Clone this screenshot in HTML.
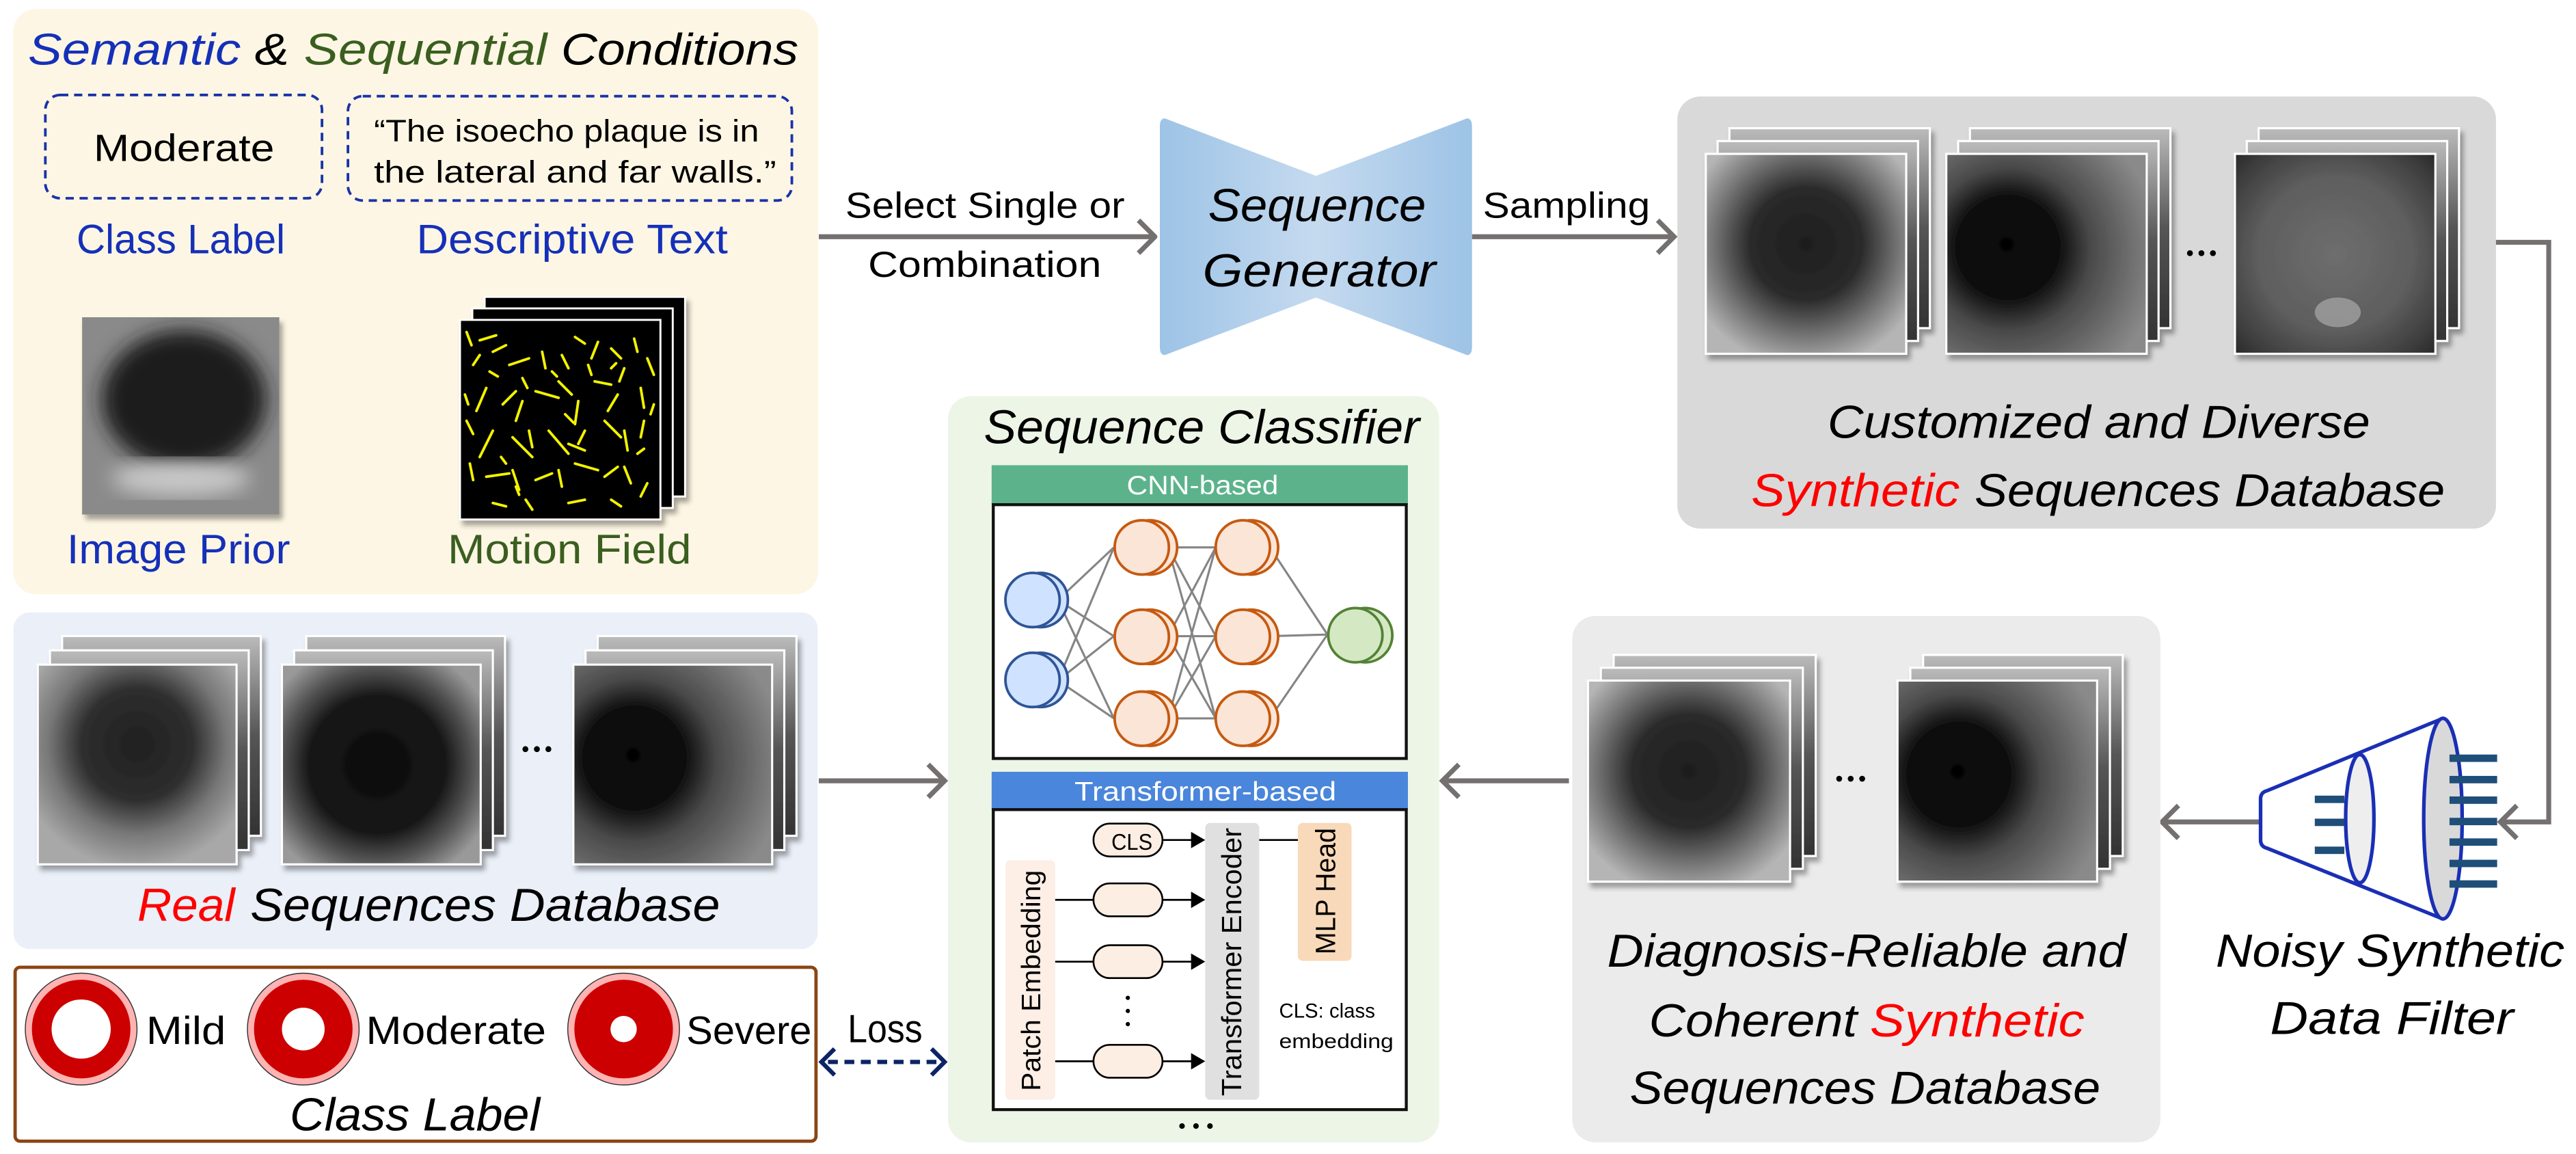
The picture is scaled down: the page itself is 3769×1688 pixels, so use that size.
<!DOCTYPE html>
<html><head><meta charset="utf-8"><style>
html,body{margin:0;padding:0;background:#fff;}
svg{display:block;}
text{font-family:"Liberation Sans",sans-serif;}
.it{font-style:italic;}
</style></head><body>
<svg width="3769" height="1688" viewBox="0 0 1568 702" preserveAspectRatio="none" xmlns="http://www.w3.org/2000/svg">
<defs>
<filter id="sh" x="-10%" y="-10%" width="130%" height="130%"><feDropShadow dx="2" dy="3" stdDeviation="1.5" flood-color="#000" flood-opacity="0.35"/></filter>
<filter id="bl"><feGaussianBlur stdDeviation="6"/></filter>
<linearGradient id="bow" x1="0" x2="1" y1="0" y2="0">
<stop offset="0" stop-color="#9dc3e6"/><stop offset="0.5" stop-color="#c5daef"/><stop offset="1" stop-color="#9dc3e6"/></linearGradient>
<radialGradient id="u1" cx="0.5" cy="0.45" r="0.62"><stop offset="0" stop-color="#1e1e1e"/><stop offset="0.45" stop-color="#2a2a2a"/><stop offset="0.7" stop-color="#6a6a6a"/><stop offset="1" stop-color="#b5b5b5"/></radialGradient>
<radialGradient id="u2" cx="0.48" cy="0.5" r="0.62"><stop offset="0" stop-color="#0d0d0d"/><stop offset="0.55" stop-color="#161616"/><stop offset="0.78" stop-color="#555"/><stop offset="1" stop-color="#999"/></radialGradient>
<radialGradient id="u3" cx="0.32" cy="0.5" fx="0.3" fy="0.45" r="0.75"><stop offset="0" stop-color="#050505"/><stop offset="0.35" stop-color="#111"/><stop offset="0.55" stop-color="#4a4a4a"/><stop offset="1" stop-color="#8a8a8a"/></radialGradient>
<radialGradient id="u4" cx="0.5" cy="0.5" r="0.7"><stop offset="0" stop-color="#6e6e6e"/><stop offset="0.55" stop-color="#5e5e5e"/><stop offset="0.85" stop-color="#3e3e3e"/><stop offset="1" stop-color="#2a2a2a"/></radialGradient>
<radialGradient id="u5" cx="0.5" cy="0.4" r="0.62"><stop offset="0" stop-color="#202020"/><stop offset="0.45" stop-color="#2e2e2e"/><stop offset="0.72" stop-color="#777"/><stop offset="1" stop-color="#a8a8a8"/></radialGradient>
<linearGradient id="ub" x1="0" y1="0" x2="0" y2="1"><stop offset="0" stop-color="#bbb"/><stop offset="0.5" stop-color="#555"/><stop offset="1" stop-color="#333"/></linearGradient>
</defs>

<rect x="8" y="5.5" width="490" height="356" rx="14" fill="#fdf6e4"/>
<text class="it" x="17" y="39.4" font-size="27" fill="#1530b8" textLength="129.6" lengthAdjust="spacingAndGlyphs">Semantic</text>
<text class="it" x="155" y="39.4" font-size="27" fill="#000" textLength="21" lengthAdjust="spacingAndGlyphs">&amp;</text>
<text class="it" x="185" y="39.4" font-size="27" fill="#3a5e1f" textLength="148" lengthAdjust="spacingAndGlyphs">Sequential</text>
<text class="it" x="341.5" y="39.4" font-size="27" fill="#000" textLength="144.5" lengthAdjust="spacingAndGlyphs">Conditions</text>
<rect x="27.6" y="57.8" width="168.4" height="62.8" rx="9" fill="none" stroke="#1a33a8" stroke-width="1.6" stroke-dasharray="5,3.5"/>
<rect x="211.8" y="58.5" width="270.2" height="63.5" rx="9" fill="none" stroke="#1a33a8" stroke-width="1.6" stroke-dasharray="5,3.5"/>
<text x="57" y="98" font-size="23" textLength="110" lengthAdjust="spacingAndGlyphs">Moderate</text>
<text x="227.6" y="86" font-size="19" textLength="234.4" lengthAdjust="spacingAndGlyphs">“The isoecho plaque is in</text>
<text x="227.6" y="111" font-size="19" textLength="244.9" lengthAdjust="spacingAndGlyphs">the lateral and far walls.”</text>
<text x="46.6" y="154" font-size="25" fill="#1530b8" textLength="126.9" lengthAdjust="spacingAndGlyphs">Class Label</text>
<text x="253.5" y="154" font-size="25" fill="#1530b8" textLength="189.5" lengthAdjust="spacingAndGlyphs">Descriptive Text</text>
<g filter="url(#sh)">
<rect x="50" y="193" width="120" height="120" fill="#8a8a8a"/>
</g>
<svg x="50" y="193" width="120" height="120" overflow="hidden">
<rect width="120" height="120" fill="#8a8a8a"/>
<ellipse cx="62" cy="50" rx="50" ry="42" fill="#1c1c1c" filter="url(#bl)"/>
<ellipse cx="60" cy="98" rx="42" ry="11" fill="#c8c8c8" filter="url(#bl)"/>
</svg>
<g stroke="#fff" stroke-width="1.2" filter="url(#sh)">
<rect x="295" y="180.6" width="122" height="121.4" fill="#000"/>
<rect x="287.5" y="187.6" width="122" height="121.4" fill="#000"/>
<rect x="280" y="194.6" width="122" height="121.4" fill="#000"/>
</g>
<g stroke="#f2f200" stroke-width="1.6" stroke-linecap="round">
<path d="M284 202l3 8M292 207l10-3M300 214l8-4M288 222l4-6M310 222l12-4M318 230l3 6M330 214l2 10M342 216l4 8M350 205l6 4M364 208l-4 10M372 212l6 6M380 224l-3 8M386 206l2 8M394 218l4 10"/>
<path d="M296 236l-6 14M306 246l8-8M318 244l-4 12M326 238l14 4M340 232l8 8M352 244l-2 14M362 232l10 2M376 240l-6 10M390 236l2 12M284 256l4 8"/>
<path d="M300 262l-8 16M312 266l12 12M322 262l2 10M334 262l12 14M346 270l10 4M356 262l-4 8M368 256l10 10M380 262l2 12M392 256l-2 10"/>
<path d="M286 282l2 10M296 290l14-2M312 286l4 12M326 292l10-4M340 286l2 10M350 282l14 4M368 290l8 -6M380 284l4 10M394 294l-4 8M300 306l8 2M320 304l4 6M346 306l10 -2M372 304l6 4"/>
<path d="M283 240l2 6M298 226l5 3M336 226l3 3M358 222l2 6M398 246l-2 6M344 252l5 5M314 296l2 5M388 276l4-3M305 278l3 4M372 224l3-3"/>
</g>
<text x="40.7" y="342.7" font-size="25" fill="#1530b8" textLength="135.9" lengthAdjust="spacingAndGlyphs">Image Prior</text>
<text x="272.5" y="342.7" font-size="25" fill="#3a5e1f" textLength="148.3" lengthAdjust="spacingAndGlyphs">Motion Field</text>

<g stroke="#757070" stroke-width="3" fill="none">
<line x1="498.4" y1="144" x2="703" y2="144"/>
<polyline points="693,134 703,144 693,154" stroke-linejoin="round"/>
<line x1="896" y1="144" x2="1018" y2="144"/>
<polyline points="1009,134 1019,144 1009,154"/>
</g>
<text x="514.6" y="132.5" font-size="22" textLength="170" lengthAdjust="spacingAndGlyphs">Select Single or</text>
<text x="528.4" y="168.4" font-size="22" textLength="142" lengthAdjust="spacingAndGlyphs">Combination</text>
<path d="M709,72 Q706,72 706,77 L706,211 Q706,216 709,216 L801,181 L893,216 Q896,216 896,211 L896,77 Q896,72 893,72 L801,107 Z" fill="url(#bow)"/>
<text class="it" x="735.4" y="134.5" font-size="28" textLength="132.6" lengthAdjust="spacingAndGlyphs">Sequence</text>
<text class="it" x="732" y="174.3" font-size="28" textLength="142" lengthAdjust="spacingAndGlyphs">Generator</text>
<text x="902.6" y="132.5" font-size="22" textLength="101.8" lengthAdjust="spacingAndGlyphs">Sampling</text>

<rect x="1021" y="58.7" width="498.3" height="262.9" rx="14" fill="#d9d9d9"/>
<g stroke="#fff" stroke-width="1.3" filter="url(#sh)">
<rect x="1052.7" y="78" width="122" height="121.6" fill="url(#ub)"/>
<rect x="1045.5" y="85.8" width="122" height="121.6" fill="url(#ub)"/>
<rect x="1038.3" y="93.6" width="122" height="121.6" fill="url(#u1)"/>
<rect x="1199.1" y="78" width="122" height="121.6" fill="url(#ub)"/>
<rect x="1191.9" y="85.8" width="122" height="121.6" fill="url(#ub)"/>
<rect x="1184.7" y="93.6" width="122" height="121.6" fill="url(#u3)"/>
<rect x="1374.8" y="78" width="122" height="121.6" fill="url(#ub)"/>
<rect x="1367.6" y="85.8" width="122" height="121.6" fill="url(#ub)"/>
<rect x="1360.4" y="93.6" width="122" height="121.6" fill="url(#u4)"/>
</g>
<ellipse cx="1423" cy="190" rx="14" ry="9" fill="#aaa" opacity="0.7"/>
<g fill="#000"><circle cx="1333" cy="154" r="1.8"/><circle cx="1340" cy="154" r="1.8"/><circle cx="1347" cy="154" r="1.8"/></g>
<text class="it" x="1112.4" y="266.3" font-size="28" textLength="330.3" lengthAdjust="spacingAndGlyphs">Customized and Diverse</text>
<text class="it" x="1065.9" y="308" font-size="28" fill="#ff0000" textLength="127" lengthAdjust="spacingAndGlyphs">Synthetic</text>
<text class="it" x="1201.9" y="308" font-size="28" textLength="286.3" lengthAdjust="spacingAndGlyphs">Sequences Database</text>

<g stroke="#757070" stroke-width="3" fill="none">
<polyline points="1519.3,147.4 1551.4,147.4 1551.4,500 1523,500"/>
<polyline points="1532,490 1522,500 1532,510"/>
<line x1="1399" y1="500" x2="1317" y2="500"/>
<polyline points="1326,490 1316,500 1326,510"/>
</g>

<path d="M1380,481 L1487,437 L1487,559 L1380,516 Q1376,515 1376,511 L1376,486 Q1376,482 1380,481 Z" fill="#fff" stroke="#1a2fb5" stroke-width="2.2" stroke-linejoin="round"/>
<ellipse cx="1436.4" cy="498" rx="8.6" ry="39" fill="#eee" stroke="#1a2fb5" stroke-width="2.2"/>
<ellipse cx="1487" cy="498" rx="11.7" ry="61" fill="#d9d9d9" stroke="#1a2fb5" stroke-width="2.2"/>
<g fill="#1f4e79">
<rect x="1409" y="484" width="18" height="4.5"/><rect x="1409" y="498" width="18" height="4.5"/><rect x="1409" y="515" width="18" height="4.5"/>
<rect x="1491" y="459" width="29" height="4.5"/><rect x="1491" y="472" width="29" height="4.5"/><rect x="1491" y="484.5" width="29" height="4.5"/><rect x="1491" y="497.5" width="29" height="4.5"/><rect x="1491" y="510" width="29" height="4.5"/><rect x="1491" y="523" width="29" height="4.5"/><rect x="1491" y="535.5" width="29" height="4.5"/>
</g>
<text class="it" x="1348.7" y="588" font-size="28" textLength="212.3" lengthAdjust="spacingAndGlyphs">Noisy Synthetic</text>
<text class="it" x="1381.8" y="629" font-size="28" textLength="148.2" lengthAdjust="spacingAndGlyphs">Data Filter</text>

<rect x="957" y="374.7" width="358" height="320.2" rx="14" fill="#ebebeb"/>
<g stroke="#fff" stroke-width="1.3" filter="url(#sh)">
<rect x="982.2" y="398.4" width="123" height="122.3" fill="url(#ub)"/>
<rect x="974.4" y="406.2" width="123" height="122.3" fill="url(#ub)"/>
<rect x="966.6" y="414" width="123" height="122.3" fill="url(#u1)"/>
<rect x="1170.6" y="398.4" width="121.5" height="122.3" fill="url(#ub)"/>
<rect x="1162.8" y="406.2" width="121.5" height="122.3" fill="url(#ub)"/>
<rect x="1155" y="414" width="121.5" height="122.3" fill="url(#u3)"/>
</g>
<g fill="#000"><circle cx="1119.5" cy="473.7" r="1.8"/><circle cx="1126.5" cy="473.7" r="1.8"/><circle cx="1133.5" cy="473.7" r="1.8"/></g>
<text class="it" x="978.3" y="588" font-size="28" textLength="315.8" lengthAdjust="spacingAndGlyphs">Diagnosis-Reliable and</text>
<text class="it" x="1003.7" y="630.4" font-size="28" textLength="126.7" lengthAdjust="spacingAndGlyphs">Coherent</text>
<text class="it" x="1138.2" y="630.4" font-size="28" fill="#ff0000" textLength="130.6" lengthAdjust="spacingAndGlyphs">Synthetic</text>
<text class="it" x="992" y="671.5" font-size="28" textLength="286.5" lengthAdjust="spacingAndGlyphs">Sequences Database</text>

<g stroke="#757070" stroke-width="3" fill="none">
<line x1="955" y1="475" x2="879" y2="475"/>
<polyline points="888,465 878,475 888,485"/>
</g>

<rect x="577" y="241" width="299" height="454" rx="14" fill="#edf5e6"/>
<text class="it" x="598.8" y="269.6" font-size="29" textLength="265.3" lengthAdjust="spacingAndGlyphs">Sequence Classifier</text>
<rect x="603.6" y="283" width="253.4" height="24" fill="#5cb38b"/>
<text x="685.8" y="300.7" font-size="16" fill="#fff" textLength="92.3" lengthAdjust="spacingAndGlyphs">CNN-based</text>
<rect x="604.6" y="307" width="251.4" height="154.4" fill="#fff" stroke="#111" stroke-width="1.8"/>
<g stroke="#858585" stroke-width="1.3">
<path d="M644 365L678 333M644 365L678 387M644 365L678 437M644 414L678 333M644 414L678 387M644 414L678 437"/>
<path d="M711 333L740 333M711 333L740 387M711 333L740 437M711 387L740 333M711 387L740 387M711 387L740 437M711 437L740 333M711 437L740 387M711 437L740 437"/>
<path d="M773 333L808 386M773 387L808 386M773 437L808 386"/>
</g>
<g stroke-width="1.6">
<circle cx="633.5" cy="365" r="16.5" fill="#cfe2ff" stroke="#2f5597"/><circle cx="628.5" cy="365" r="16.5" fill="#cfe2ff" stroke="#2f5597"/>
<circle cx="633.5" cy="413.6" r="16.5" fill="#cfe2ff" stroke="#2f5597"/><circle cx="628.5" cy="413.6" r="16.5" fill="#cfe2ff" stroke="#2f5597"/>
<g fill="#fbe5d6" stroke="#c55a11">
<circle cx="700" cy="333" r="16.5"/><circle cx="695" cy="333" r="16.5"/>
<circle cx="700" cy="387.4" r="16.5"/><circle cx="695" cy="387.4" r="16.5"/>
<circle cx="700" cy="437.2" r="16.5"/><circle cx="695" cy="437.2" r="16.5"/>
<circle cx="761.5" cy="333" r="16.5"/><circle cx="756.5" cy="333" r="16.5"/>
<circle cx="761.5" cy="387.4" r="16.5"/><circle cx="756.5" cy="387.4" r="16.5"/>
<circle cx="761.5" cy="437.2" r="16.5"/><circle cx="756.5" cy="437.2" r="16.5"/>
</g>
<circle cx="831" cy="386.4" r="16.5" fill="#d5e8c4" stroke="#548235"/><circle cx="825" cy="386.4" r="16.5" fill="#d5e8c4" stroke="#548235"/>
</g>
<rect x="603.6" y="469.5" width="253.4" height="23" fill="#4a86db"/>
<text x="654" y="487" font-size="16" fill="#fff" textLength="159.4" lengthAdjust="spacingAndGlyphs">Transformer-based</text>
<rect x="604.6" y="492.5" width="251.4" height="182.5" fill="#fff" stroke="#111" stroke-width="1.8"/>
<rect x="612" y="523.3" width="30.3" height="145.7" rx="3" fill="#fdeee6"/>
<rect x="733.6" y="500.6" width="32.9" height="168.4" rx="3" fill="#e0e0e0"/>
<rect x="790" y="500.6" width="32.7" height="83.9" rx="3" fill="#f8d9b9"/>
<text transform="translate(633.2,663.7) rotate(-90)" font-size="16" textLength="134.4" lengthAdjust="spacingAndGlyphs">Patch Embedding</text>
<text transform="translate(755.5,666.7) rotate(-90)" font-size="17" textLength="163.1" lengthAdjust="spacingAndGlyphs">Transformer Encoder</text>
<text transform="translate(812.8,580.6) rotate(-90)" font-size="17" textLength="77" lengthAdjust="spacingAndGlyphs">MLP Head</text>
<g stroke="#000" stroke-width="1.1" fill="#fdeee3">
<rect x="665.6" y="501" width="42" height="20" rx="10"/>
<rect x="665.6" y="537.4" width="42" height="20" rx="10"/>
<rect x="665.6" y="575" width="42" height="20" rx="10"/>
<rect x="665.6" y="635.6" width="42" height="20" rx="10"/>
<path d="M707.6 511H726M642.3 547.4H665.6M707.6 547.4H726M642.3 585H665.6M707.6 585H726M642.3 645.6H665.6M707.6 645.6H726M766.5 511H790" fill="none"/>
</g>
<g fill="#000">
<path d="M725 506L733.6 511L725 516Z"/><path d="M725 542.4L733.6 547.4L725 552.4Z"/><path d="M725 580L733.6 585L725 590Z"/><path d="M725 640.6L733.6 645.6L725 650.6Z"/>
<circle cx="686.5" cy="607" r="1.3"/><circle cx="686.5" cy="615" r="1.3"/><circle cx="686.5" cy="623" r="1.3"/>
<circle cx="719.5" cy="685" r="1.7"/><circle cx="728" cy="685" r="1.7"/><circle cx="736.5" cy="685" r="1.7"/>
</g>
<text x="676.5" y="517" font-size="14" textLength="25" lengthAdjust="spacingAndGlyphs">CLS</text>
<text x="778.6" y="619" font-size="12.5" textLength="58.4" lengthAdjust="spacingAndGlyphs">CLS: class</text>
<text x="778.6" y="637.5" font-size="12.5" textLength="69.6" lengthAdjust="spacingAndGlyphs">embedding</text>

<rect x="8.2" y="372.5" width="489.5" height="204.8" rx="10" fill="#eaeff8"/>
<g stroke="#fff" stroke-width="1.3" filter="url(#sh)">
<rect x="37.8" y="386.9" width="121" height="121.5" fill="url(#ub)"/>
<rect x="30.4" y="395.6" width="121" height="121.5" fill="url(#ub)"/>
<rect x="23" y="404.3" width="121" height="121.5" fill="url(#u5)"/>
<rect x="186.4" y="386.9" width="121" height="121.5" fill="url(#ub)"/>
<rect x="179" y="395.6" width="121" height="121.5" fill="url(#ub)"/>
<rect x="171.6" y="404.3" width="121" height="121.5" fill="url(#u2)"/>
<rect x="363.8" y="386.9" width="121" height="121.5" fill="url(#ub)"/>
<rect x="356.4" y="395.6" width="121" height="121.5" fill="url(#ub)"/>
<rect x="349" y="404.3" width="121" height="121.5" fill="url(#u3)"/>
</g>
<g fill="#000"><circle cx="319.8" cy="455.7" r="1.8"/><circle cx="326.8" cy="455.7" r="1.8"/><circle cx="333.8" cy="455.7" r="1.8"/></g>
<text class="it" x="83.6" y="560.1" font-size="28" fill="#ff0000" textLength="59.4" lengthAdjust="spacingAndGlyphs">Real</text>
<text class="it" x="152.3" y="560.1" font-size="28" textLength="286" lengthAdjust="spacingAndGlyphs">Sequences Database</text>
<g stroke="#757070" stroke-width="3" fill="none">
<line x1="498.4" y1="475" x2="574" y2="475"/>
<polyline points="565,465 575,475 565,485"/>
</g>

<rect x="9.2" y="588.4" width="487.5" height="105.8" rx="3" fill="#fff" stroke="#8b4513" stroke-width="2"/>
<g stroke="#333" stroke-width="0.6">
<circle cx="49.4" cy="626" r="34" fill="#ffb3b3"/><circle cx="49.4" cy="626" r="30" fill="#cc0000" stroke="none"/><circle cx="49.4" cy="626" r="18" fill="#fff" stroke="none"/>
<circle cx="184.6" cy="626" r="34" fill="#ffb3b3"/><circle cx="184.6" cy="626" r="30" fill="#cc0000" stroke="none"/><circle cx="184.6" cy="626" r="13" fill="#fff" stroke="none"/>
<circle cx="379.6" cy="626" r="34" fill="#ffb3b3"/><circle cx="379.6" cy="626" r="30" fill="#cc0000" stroke="none"/><circle cx="379.6" cy="626" r="8" fill="#fff" stroke="none"/>
</g>
<text x="89" y="635" font-size="24" textLength="48.4" lengthAdjust="spacingAndGlyphs">Mild</text>
<text x="222.8" y="635" font-size="24" textLength="109.6" lengthAdjust="spacingAndGlyphs">Moderate</text>
<text x="417.8" y="635" font-size="24" textLength="76.2" lengthAdjust="spacingAndGlyphs">Severe</text>
<text class="it" x="176.4" y="687.7" font-size="28" textLength="152.3" lengthAdjust="spacingAndGlyphs">Class Label</text>
<text x="516" y="634" font-size="24" textLength="45.5" lengthAdjust="spacingAndGlyphs">Loss</text>
<g stroke="#0c2466" stroke-width="2.6" fill="none">
<line x1="504" y1="646" x2="571" y2="646" stroke-dasharray="6,4"/>
<polyline points="508,638 500,646 508,654"/>
<polyline points="567,638 575,646 567,654"/>
</g>
</svg>
</body></html>
